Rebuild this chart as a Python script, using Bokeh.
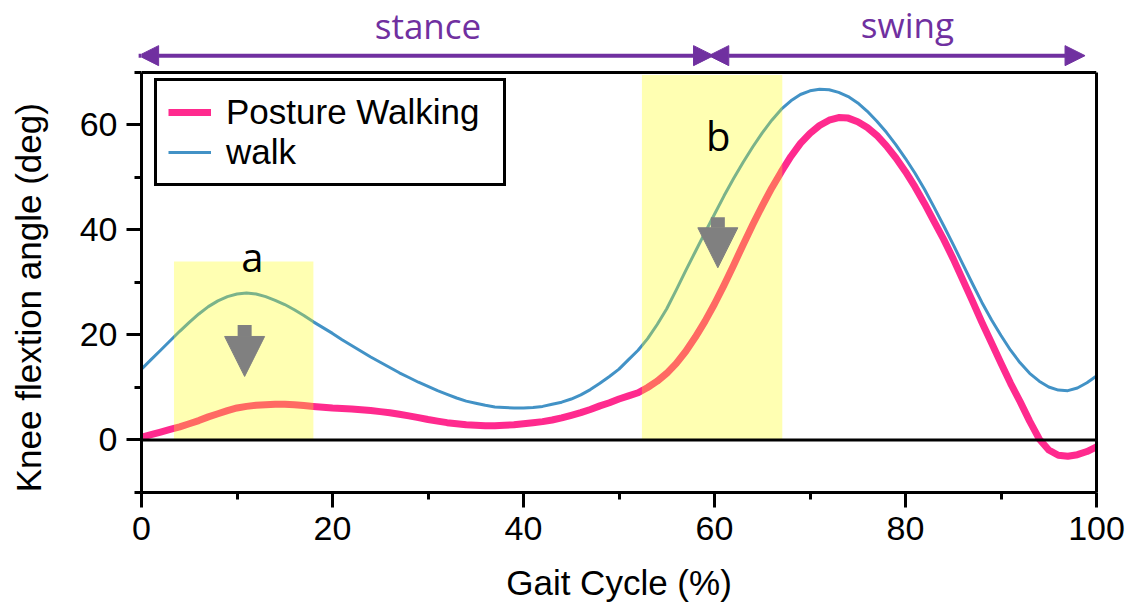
import numpy as np
from bokeh.plotting import figure
from bokeh.layouts import row
from bokeh.models import (Range1d, LinearAxis, FixedTicker, Span, Arrow, NormalHead,
                          Legend, LegendItem, ColumnDataSource)
from bokeh.core.properties import value
from bokeh.embed import file_html
from bokeh.resources import INLINE

# ---------------- data ----------------
gait_pct = list(range(0, 101))
posture_walking = [0.5, 1.0, 1.5, 2.0, 2.5, 3.1, 3.7, 4.4, 5.0, 5.6,
                   6.1, 6.4, 6.6, 6.7, 6.8, 6.8, 6.7, 6.55, 6.4, 6.25,
                   6.1, 6.0, 5.9, 5.75, 5.6, 5.4, 5.2, 4.9, 4.6, 4.25,
                   3.9, 3.6, 3.3, 3.1, 2.9, 2.8, 2.7, 2.7, 2.8, 2.9,
                   3.1, 3.3, 3.5, 3.8, 4.2, 4.7, 5.2, 5.8, 6.5, 7.1,
                   7.8, 8.4, 9.0, 10.0, 11.2, 12.7, 14.6, 16.9, 19.6, 22.6,
                   25.9, 29.5, 33.3, 37.2, 41.0, 44.6, 48.0, 51.1, 54.0, 56.5,
                   58.4, 59.9, 60.9, 61.4, 61.3, 60.6, 59.5, 58.0, 56.0, 53.7,
                   51.1, 48.2, 45.0, 41.6, 38.2, 34.5, 30.5, 26.5, 22.4, 18.5,
                   14.6, 10.8, 7.3, 3.6, 0.2, -1.9, -2.9, -3.1, -2.8, -2.2,
                   -1.3]
walk = [13.5, 15.3, 17.1, 18.9, 20.7, 22.4, 24.0, 25.4, 26.5, 27.3,
        27.8, 28.0, 27.8, 27.3, 26.6, 25.8, 24.8, 23.7, 22.5, 21.4,
        20.3, 19.1, 18.0, 16.9, 15.8, 14.8, 13.8, 12.8, 11.9, 11.0,
        10.2, 9.4, 8.7, 8.0, 7.4, 7.0, 6.6, 6.3, 6.2, 6.1,
        6.1, 6.2, 6.4, 6.8, 7.2, 7.8, 8.6, 9.6, 10.8, 12.1,
        13.5, 15.3, 17.1, 19.3, 22.0, 25.0, 28.6, 32.3, 35.9, 39.5,
        43.0, 46.5, 49.8, 52.9, 55.8, 58.5, 60.9, 63.0, 64.6, 65.8,
        66.5, 66.8, 66.7, 66.2, 65.4, 64.2, 62.6, 60.7, 58.6, 56.2,
        53.6, 50.8, 47.7, 44.3, 40.8, 37.2, 33.5, 29.8, 26.2, 22.9,
        19.9, 17.1, 14.7, 12.7, 11.2, 10.1, 9.5, 9.4, 9.9, 10.9,
        12.2]

x_ticks = [0, 20, 40, 60, 80, 100]
x_minor_ticks = [10, 30, 50, 70, 90]
y_ticks = [0, 20, 40, 60]
y_minor_ticks = [-10, 10, 30, 50, 70]
y_title = "Knee flextion angle (deg)"
x_title = "Gait Cycle (%)"

highlight_left = [3.4, 52.4]
highlight_right = [18.0, 67.1]
highlight_bottom = [0, 0]
highlight_top = [34.0, 69.5]
highlight_labels = ["a", "b"]
highlight_label_x = [11.6, 60.4]
highlight_label_y = [35.0, 58.0]

drop_x = [10.8, 60.35]
drop_top = [21.9, 42.4]
drop_tip = [12.1, 32.8]

phase_names = ["stance", "swing"]
phase_start = [-0.3, 59.4]
phase_end = [59.9, 98.8]
phase_center = [30.0, 80.2]
phase_arrow_y = [73.2, 73.2]
phase_label_y = [78.9, 79.1]

PINK = "#FF2A8E"
BLUE = "#4292C6"
PURPLE = "#7030A0"
ARIAL = "Liberation Sans"

TITLE_W = 60

# ---------------- main figure ----------------
p = figure(width=1131 - TITLE_W, height=608, output_backend="svg", toolbar_location=None,
           x_range=Range1d(0, 100), y_range=Range1d(-10, 83.7),
           min_border_left=141 - TITLE_W, min_border_right=35, min_border_top=0,
           min_border_bottom=116)
p.outline_line_color = None
p.grid.visible = False
p.background_fill_color = "white"

# ---------------- y-title strip (shares the y scale of the main plot) ----------------
side = figure(width=TITLE_W, height=608, output_backend="svg", toolbar_location=None,
              x_range=Range1d(0, TITLE_W), y_range=p.y_range,
              x_axis_location=None, y_axis_location=None,
              min_border_left=0, min_border_right=0, min_border_top=0, min_border_bottom=116)
side.outline_line_color = None
side.grid.visible = False
side.text(x=[27.5], y=[27.1], text=[y_title], angle=np.pi / 2,
          text_font=value(ARIAL), text_font_size="35px", text_color="black",
          text_align="center", text_baseline="middle")

# axes
p.xaxis.ticker = FixedTicker(ticks=x_ticks, minor_ticks=x_minor_ticks)
p.yaxis.ticker = FixedTicker(ticks=y_ticks, minor_ticks=y_minor_ticks)
p.xaxis.bounds = (0, 100)
p.yaxis.bounds = (-10, 70)
for ax in (p.xaxis, p.yaxis):
    ax.axis_line_width = 3
    ax.axis_line_color = "black"
    ax.major_tick_line_width = 3
    ax.minor_tick_line_width = 3
    ax.major_tick_line_color = "black"
    ax.minor_tick_line_color = "black"
    ax.major_tick_out = 15
    ax.major_tick_in = 0
    ax.minor_tick_out = 7
    ax.minor_tick_in = 0
    ax.major_label_text_font = ARIAL
    ax.major_label_text_font_size = "34px"
    ax.major_label_text_color = "black"
    ax.axis_label_text_font = ARIAL
    ax.axis_label_text_font_size = "35px"
    ax.axis_label_text_font_style = "normal"
    ax.axis_label_text_color = "black"
    ax.major_label_standoff = 9
p.xaxis.axis_label = x_title
p.xaxis.axis_label_standoff = 20

# right border as an axis without ticks
rax = LinearAxis(bounds=(-10, 70), ticker=FixedTicker(ticks=[]),
                 axis_line_width=3, axis_line_color="black",
                 major_tick_line_color=None, minor_tick_line_color=None,
                 major_label_text_font_size="0px")
p.add_layout(rax, "right")

# top border and zero line
p.add_layout(Span(location=70, dimension="width", line_color="black", line_width=3))
p.add_layout(Span(location=0, dimension="width", line_color="black", line_width=3))

# curves
r_pw = p.line(gait_pct, posture_walking, line_color=PINK, line_width=7, line_join="round")
r_w = p.line(gait_pct, walk, line_color=BLUE, line_width=3, line_join="round")

# highlight boxes (on top of the lines)
p.quad(left=highlight_left, right=highlight_right, bottom=highlight_bottom, top=highlight_top,
       fill_color="#FFFF00", fill_alpha=0.3, line_color=None)

# a / b labels
p.text(x=highlight_label_x, y=highlight_label_y, text=highlight_labels,
       text_font=value("Open Sans"), text_font_size="40px", text_color="black",
       text_align="center", text_baseline="alphabetic")

# grey down arrows
for xa, yt, yb in zip(drop_x, drop_top, drop_tip):
    src = ColumnDataSource(dict(x0=[xa], y0=[yt], x1=[xa], y1=[yb]))
    p.add_layout(Arrow(x_start="x0", y_start="y0", x_end="x1", y_end="y1", source=src,
                       line_color="#808080", line_width=14,
                       end=NormalHead(size=40, fill_color="#808080", line_color="#808080",
                                      line_width=1),
                       start=None))

# stance / swing arrows
for x0, x1, ya in zip(phase_start, phase_end, phase_arrow_y):
    src = ColumnDataSource(dict(x0=[x0], y0=[ya], x1=[x1], y1=[ya]))
    p.add_layout(Arrow(x_start="x0", y_start="y0", x_end="x1", y_end="y1", source=src,
                       line_color=PURPLE, line_width=4,
                       start=NormalHead(size=20, fill_color=PURPLE, line_color=PURPLE, line_width=1),
                       end=NormalHead(size=20, fill_color=PURPLE, line_color=PURPLE, line_width=1)))
p.text(x=phase_center, y=phase_label_y, text=phase_names,
       text_font=value("Open Sans"), text_font_size="35px", text_color=PURPLE,
       text_align="center", text_baseline="alphabetic")

# legend
legend = Legend(items=[LegendItem(label="Posture Walking", renderers=[r_pw]),
                       LegendItem(label="walk", renderers=[r_w])],
                location=(13, 306), orientation="vertical",
                label_text_font=ARIAL, label_text_font_size="35px", label_text_color="black",
                glyph_width=43, glyph_height=30, label_standoff=15, label_width=266,
                padding=11, spacing=0, margin=0,
                border_line_color="black", border_line_width=3, border_line_alpha=1,
                background_fill_color="white", background_fill_alpha=1)
p.add_layout(legend)

layout = row(side, p, spacing=0)
open("out.html", "w").write(file_html(layout, INLINE))
